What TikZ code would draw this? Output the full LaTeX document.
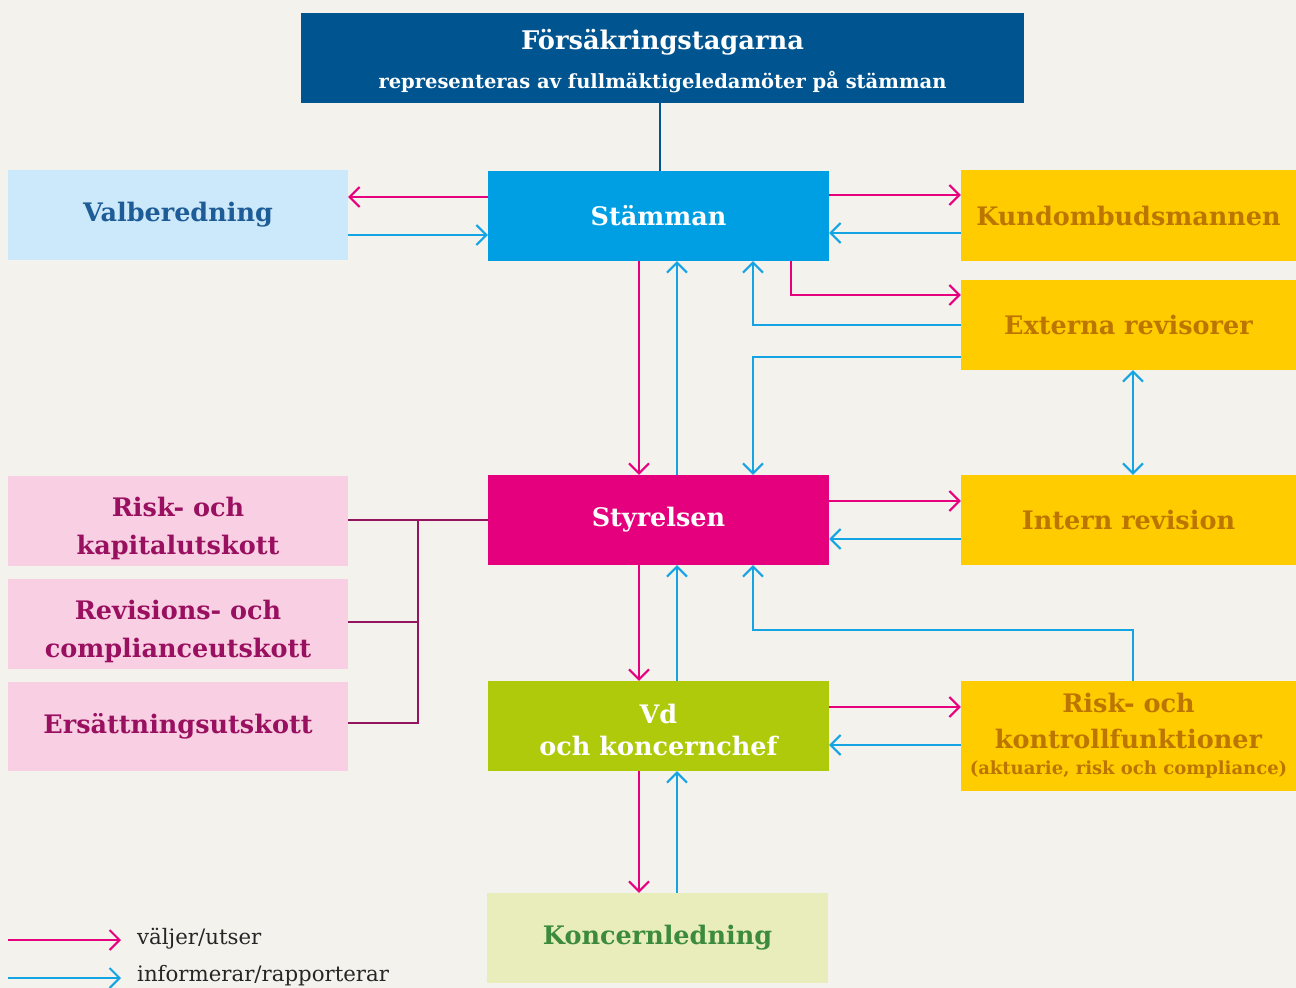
\documentclass[tikz,border=0pt]{standalone}
\usepackage{fontspec}
\setmainfont{DejaVu Serif}
\usetikzlibrary{arrows.meta}
\definecolor{bgc}{HTML}{F3F2ED}
\definecolor{dblue}{HTML}{00548F}
\definecolor{cyanc}{HTML}{009FE3}
\definecolor{lblue}{HTML}{CCE9FB}
\definecolor{lbluetxt}{HTML}{1D5C96}
\definecolor{yel}{HTML}{FFCC00}
\definecolor{yeltxt}{HTML}{BC7600}
\definecolor{mag}{HTML}{E5007D}
\definecolor{lpink}{HTML}{F9D0E3}
\definecolor{pinktxt}{HTML}{9A1060}
\definecolor{lime}{HTML}{AFCA0B}
\definecolor{lgreen}{HTML}{E8EDBB}
\definecolor{greentxt}{HTML}{3C8B3C}
\definecolor{connc}{HTML}{95145F}
\definecolor{pinkarr}{HTML}{E6007E}
\definecolor{bluearr}{HTML}{14A3E3}
\begin{document}
\begin{tikzpicture}[x=1pt,y=-1pt,
  >={Straight Barb[length=10pt,width=20pt]},
  box/.style={rectangle, inner sep=0pt, minimum height=90pt, minimum width=341pt,
     align=center, font=\fontsize{25.5}{38}\selectfont\bfseries},
  sidebox/.style={box, minimum width=335pt, fill=yel, text=yeltxt},
  combox/.style={box, minimum width=340pt, fill=lpink, text=pinktxt},
  pa/.style={draw=pinkarr, line width=2pt, line cap=butt, ->},
  ba/.style={draw=bluearr, line width=2pt, line cap=butt, ->},
  cl/.style={draw=connc, line width=2pt},
  legtxt/.style={anchor=west, inner sep=0pt, font=\fontsize{21.3}{24}\selectfont, text=black!85}
]
\useasboundingbox[fill=bgc] (0,0) rectangle (1296,988);

% nodes
\node[box, minimum width=723pt, fill=dblue, text=white] (top) at (662.5,58)
  {{\fontsize{25.7}{30}\selectfont\rule{0pt}{27pt}Försäkringstagarna}\\[1pt]{\fontsize{19.5}{30}\selectfont representeras av fullmäktigeledamöter på stämman}};
\node[box, fill=cyanc, text=white] (stam) at (658.5,216) {Stämman};
\node[box, minimum width=340pt, fill=lblue, text=lbluetxt] (valb) at (178,215) {Valberedning};
\node[sidebox, minimum height=91pt] (kund) at (1128.5,215.5) {Kundombudsmannen};
\node[sidebox] (ext) at (1128.5,325) {Externa revisorer};
\node[sidebox] (intern) at (1128.5,520) {Intern revision};
\node[sidebox, minimum height=110pt] (riskk) at (1128.5,736)
  {Risk- och\\[-2pt]kontrollfunktioner\\[-12pt]{\fontsize{18}{24}\selectfont (aktuarie, risk och compliance)}};
\node[box, fill=mag, text=white] (styr) at (658.5,520) {Styrelsen};
\node[box, fill=lime, text=white, font=\fontsize{25.5}{32}\selectfont\bfseries] (vd) at (658.5,726) {\rule{0pt}{26.4pt}Vd\\och koncernchef};
\node[box, fill=lgreen, text=greentxt] (kl) at (657.5,938) {Koncernledning};
\node[combox] (com1) at (178,521) {\rule{0pt}{34pt}Risk- och\\kapitalutskott};
\node[combox] (com2) at (178,624) {\rule{0pt}{34pt}Revisions- och\\complianceutskott};
\node[combox, minimum height=89pt] (com3) at (178,726.5) {Ersättningsutskott};

% top line
\draw[draw=dblue, line width=2pt] (top.south -| 660,0) -- (stam.north -| 660,0);

% Stämman <-> Valberedning
\draw[pa] (stam.west |- 0,197) -- (valb.east |- 0,197);
\draw[ba] (valb.east |- 0,235) -- (stam.west |- 0,235);
% Stämman <-> Kundombudsmannen
\draw[pa] (stam.east |- 0,195) -- (kund.west |- 0,195);
\draw[ba] (kund.west |- 0,233) -- (stam.east |- 0,233);
% Stämman -> Externa revisorer
\draw[pa] (stam.south -| 791,0) |- (ext.west |- 0,295);
\draw[ba] (ext.west |- 0,325) -| (stam.south -| 753,0);
\draw[ba] (ext.west |- 0,357) -| (styr.north -| 753,0);
% Externa <-> Intern
\draw[ba, <->] (ext.south -| 1133,0) -- (intern.north -| 1133,0);
% Stämman <-> Styrelsen
\draw[pa] (stam.south -| 639,0) -- (styr.north -| 639,0);
\draw[ba] (styr.north -| 677,0) -- (stam.south -| 677,0);
% Styrelsen <-> Intern revision
\draw[pa] (styr.east |- 0,501) -- (intern.west |- 0,501);
\draw[ba] (intern.west |- 0,539) -- (styr.east |- 0,539);
% committees
\coordinate (j) at (418,520);
\draw[cl] (styr.west |- j) -- (com1.east |- j);
\draw[cl] (com2.east |- 0,622) -| (j);
\draw[cl] (com3.east |- 0,723) -| (j);
% Styrelsen <-> Vd
\draw[pa] (styr.south -| 639,0) -- (vd.north -| 639,0);
\draw[ba] (vd.north -| 677,0) -- (styr.south -| 677,0);
% Risk/kontroll -> Styrelsen
\coordinate (rk) at (1133,630);
\draw[ba] (riskk.north -| rk) -- (rk) -| (styr.south -| 753,0);
% Vd <-> Risk/kontroll
\draw[pa] (vd.east |- 0,707) -- (riskk.west |- 0,707);
\draw[ba] (riskk.west |- 0,745) -- (vd.east |- 0,745);
% Vd <-> Koncernledning
\draw[pa] (vd.south -| 639,0) -- (kl.north -| 639,0);
\draw[ba] (kl.north -| 677,0) -- (vd.south -| 677,0);

% legend
\node[legtxt] (lt1) at (137,939) {väljer/utser};
\node[legtxt] (lt2) at (137,976) {informerar/rapporterar};
\coordinate (la1) at (8,940);
\coordinate (la2) at (8,978);
\draw[pa] (la1) -- (la1 -| 121,0);
\draw[ba] (la2) -- (la2 -| 121,0);
\end{tikzpicture}
\end{document}
